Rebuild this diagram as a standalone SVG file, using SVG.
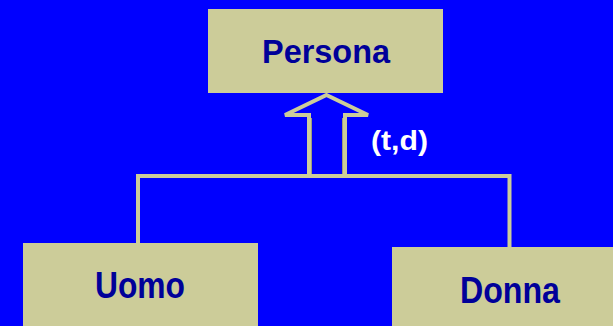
<svg xmlns="http://www.w3.org/2000/svg" width="613" height="326" viewBox="0 0 613 326">
  <style>
    .box { fill: #CCCC99; }
    .label { font-family: "Liberation Sans", "DejaVu Sans", sans-serif; font-weight: bold; fill: #000099; text-anchor: middle; }
    .wire { stroke: #CCCC99; stroke-width: 4; fill: none; }
    .note { font-family: "Liberation Sans", Arial, sans-serif; font-weight: bold; fill: #FFFFFF; font-size: 27px; }
  </style>
  <rect x="0" y="0" width="613" height="326" fill="#0000FF"/>

  <g id="connectors">
    <!-- hollow generalisation arrow -->
    <polygon class="wire" style="fill:#0000FF" points="326.5,95 368,115 345,115 345,176 309,176 309,115 285,115"/>
    <line x1="311.5" y1="118" x2="311.5" y2="174" stroke="#9E9E7E" stroke-width="1"/>
    <line x1="342.5" y1="118" x2="342.5" y2="174" stroke="#9E9E7E" stroke-width="1"/>
    <!-- branch bar -->
    <polyline class="wire" points="138,245 138,176 509.5,176 509.5,249"/>
    <text class="note" x="371" y="150" textLength="57" lengthAdjust="spacingAndGlyphs">(t,d)</text>
  </g>

  <g id="persona">
    <rect class="box" x="208" y="9" width="235" height="84"/>
    <text class="label" x="326" y="63" font-size="34" textLength="128" lengthAdjust="spacingAndGlyphs">Persona</text>
  </g>

  <g id="uomo">
    <rect class="box" x="23" y="243" width="235" height="90"/>
    <text class="label" x="140" y="298" font-size="36" textLength="90" lengthAdjust="spacingAndGlyphs">Uomo</text>
  </g>

  <g id="donna">
    <rect class="box" x="392" y="247" width="230" height="90"/>
    <text class="label" x="510" y="303" font-size="37" textLength="100" lengthAdjust="spacingAndGlyphs">Donna</text>
  </g>
</svg>
